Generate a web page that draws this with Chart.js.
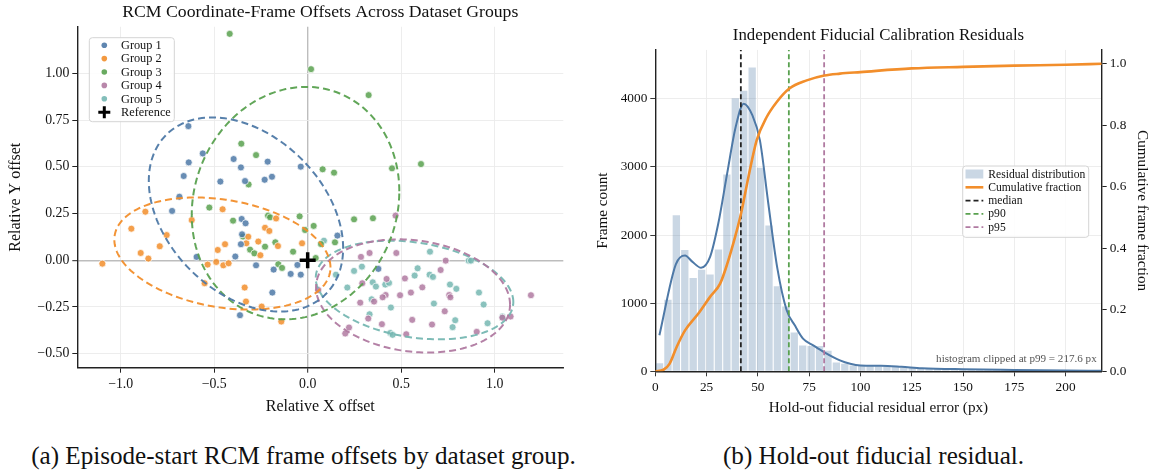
<!DOCTYPE html>
<html><head><meta charset="utf-8">
<script src="https://cdn.jsdelivr.net/npm/chart.js@4.4.1/dist/chart.umd.min.js"></script>
<style>
html,body{margin:0;padding:0;background:#fff;}
body{width:1154px;height:470px;position:relative;overflow:hidden;font-family:"Liberation Serif","DejaVu Serif",serif;color:#111;}
#c1{position:absolute;left:0;top:0;}
#c2{position:absolute;left:590px;top:0;}
.cap{position:absolute;top:441px;font-size:25.1px;line-height:30px;white-space:nowrap;transform:translateX(-50%);}
</style></head><body>
<canvas id="c1" width="590" height="425"></canvas>
<canvas id="c2" width="564" height="425"></canvas>
<div class="cap" style="left:303.5px">(a) Episode-start RCM frame offsets by dataset group.</div>
<div class="cap" style="left:873.5px">(b) Hold-out fiducial residual.</div>
<script>
// ---------------- DATA: left panel ----------------
const groupNames = ['Group 1','Group 2','Group 3','Group 4','Group 5'];
const group1X = [-0.638,-0.561,-0.636,-0.663,-0.396,-0.357,-0.214,-0.037,-0.467,-0.335,-0.230,-0.191,-0.686,-0.725,-0.353,-0.332,-0.351,-0.357,0.159,-0.594,-0.387,-0.276,-0.182,-0.091,-0.055,-0.037,-0.189,-0.362,0.378];
const group1Y = [0.718,0.572,0.524,0.451,0.542,0.497,0.528,0.501,0.421,0.424,0.431,0.447,0.340,0.264,0.221,0.198,0.139,0.086,0.132,0.018,0.020,-0.027,-0.050,-0.073,-0.025,-0.077,-0.173,-0.294,-0.046];
const group2X = [-1.098,-0.868,-0.943,-0.754,-0.893,-0.791,-0.852,-0.620,-0.455,-0.535,-0.489,-0.451,-0.423,-0.481,-0.442,-0.551,-0.337,-0.330,-0.246,-0.141,-0.328,-0.318,-0.264,-0.253,-0.228,-0.205,-0.169,-0.159,-0.030];
const group2Y = [-0.018,0.260,0.169,0.135,0.039,0.075,0.009,0.215,0.273,-0.023,-0.009,-0.027,-0.016,0.055,0.086,-0.123,-0.146,-0.221,-0.248,-0.328,0.091,0.126,0.100,0.027,0.174,0.157,0.224,0.076,0.091];
const group3X = [-0.417,0.018,0.326,-0.355,-0.276,-0.316,0.080,0.141,0.451,0.606,-0.526,-0.399,-0.212,-0.201,-0.043,0.032,-0.014,0.248,0.349,-0.346,-0.308,-0.285,-0.228,-0.173,-0.078,0.071,0.146,-0.157,-0.137,0.043];
const group3Y = [1.212,1.023,0.884,0.624,0.563,0.406,0.487,0.469,0.492,0.515,0.282,0.212,0.239,0.230,0.235,0.184,0.162,0.219,0.225,0.127,0.057,0.037,0.073,0.096,0.046,0.087,0.096,-0.021,-0.041,0.012];
const group4X = [0.470,0.285,0.331,0.474,0.738,0.711,0.520,0.422,0.613,0.552,0.494,0.417,0.401,0.292,0.281,0.355,0.757,0.763,0.733,0.559,0.665,0.324,0.397,0.221,0.201,0.527,0.904,1.085,1.041,1.194,0.057];
const group4Y = [0.239,0.018,0.039,0.039,-0.002,-0.052,-0.097,-0.100,-0.145,-0.173,-0.187,-0.186,-0.198,-0.123,-0.227,-0.221,-0.186,-0.198,-0.273,-0.319,-0.344,-0.312,-0.342,-0.360,-0.392,-0.396,-0.383,-0.301,-0.307,-0.187,-0.159];
const group5X = [0.087,0.151,0.212,0.248,0.290,0.348,0.365,0.415,0.435,0.342,0.445,0.331,0.442,0.454,0.572,0.588,0.654,0.652,0.670,0.675,0.761,0.795,0.861,0.873,0.916,0.941,0.789,0.775,0.962,1.041];
const group5Y = [0.105,-0.077,-0.146,-0.057,-0.034,-0.118,-0.141,-0.130,-0.121,-0.209,-0.253,-0.289,-0.389,-0.399,-0.082,-0.043,0.046,-0.077,-0.089,-0.232,-0.130,-0.153,-0.002,-0.002,-0.173,-0.237,-0.321,-0.358,-0.337,-0.301];
// spread ellipses per group: centre and (co)variance-like extents
const ellipseCx  = [-0.330,-0.456,-0.065, 0.5635, 0.5715];
const ellipseCy  = [ 0.245, 0.036, 0.306,-0.191,-0.159];
const ellipseSxx = [ 0.270, 0.334, 0.308, 0.269, 0.279];
const ellipseSyy = [ 0.270, 0.090, 0.387, 0.0918,0.0697];
const ellipseSxy = [-0.0936,-0.043,0.035,-0.024,-0.034];
const referencePoint = [0, 0];
const xTicksLeft = [-1.0,-0.5,0.0,0.5,1.0];
const yTicksLeft = [-0.50,-0.25,0.00,0.25,0.50,0.75,1.00];

// ---------------- DATA: right panel ----------------
const histMaxPx = 217.6;
const histCounts = [120,1050,2290,1780,1370,1490,1420,1790,2890,4010,4120,4460,2990,2140,1250,950,570,380,370,370,
  300,130,110,85,80,75,75,70,65,55,50,45,40,35,32,30,28,26,24,22,20,20,18,16,15,14,13,12,11,10,10,9,8];
const kdeX = [2,10,14.5,18,22.3,26.7,30.7,35,39.2,43.1,47.3,51,55.1,59.5,64,68,72,77,82,90,95,100,110,120,130,150,175,200,217.6];
const kdeY = [530,1570,1700,1610,1520,1680,2170,2900,3590,3930,3760,3390,2460,1510,900,675,480,380,285,160,110,85,80,65,45,30,20,12,8];
const cdfX = [0,4,7,10.4,14.5,21,26.7,31.6,35.1,38.9,41.8,45.4,49.4,54.3,59.2,65.2,73.8,82.4,90,100,125,150,175,200,217.6];
const cdfY = [0,0.005,0.025,0.079,0.133,0.188,0.242,0.285,0.35,0.437,0.513,0.632,0.751,0.827,0.876,0.919,0.946,0.962,0.968,0.973,0.985,0.99,0.994,0.997,1.0];
const percentileNames = ['median','p90','p95'];
const percentileValues = [41.7, 65.1, 82.3];
const xTicksRight = [0,25,50,75,100,125,150,175,200];
const countTicks = [0,1000,2000,3000,4000];
const fractionTicks = [0,0.2,0.4,0.6,0.8,1.0];
const clipNote = 'histogram clipped at p99 = 217.6 px';

// ---------------- styles ----------------
const SERIF = '"Liberation Serif","DejaVu Serif",serif';
Chart.defaults.font.family = SERIF;
Chart.defaults.color = '#000';
const groupColors = ['#4e79a7','#f28e2b','#59a14f','#b07aa1','#76b7b2'];
const pctColors = ['#222222','#59a14f','#b07aa1'];
const histColor = 'rgba(78,121,167,0.30)';
const kdeColor = '#4e79a7';
const cdfColor = '#f28e2b';
function rgba(hex, a){const n=parseInt(hex.slice(1),16);return `rgba(${n>>16&255},${n>>8&255},${n&255},${a})`;}
const fmt = (v,d)=> (v < -1e-9 ? '\u2212' : '') + Math.abs(v).toFixed(d);

function makeLegend(cfg){
  return {
    id: 'boxLegend',
    afterDatasetsDraw(chart){
      const ctx = chart.ctx;
      ctx.save();
      const r = 3;
      ctx.beginPath();
      ctx.moveTo(cfg.x+r, cfg.y);
      ctx.arcTo(cfg.x+cfg.w, cfg.y, cfg.x+cfg.w, cfg.y+cfg.h, r);
      ctx.arcTo(cfg.x+cfg.w, cfg.y+cfg.h, cfg.x, cfg.y+cfg.h, r);
      ctx.arcTo(cfg.x, cfg.y+cfg.h, cfg.x, cfg.y, r);
      ctx.arcTo(cfg.x, cfg.y, cfg.x+cfg.w, cfg.y, r);
      ctx.closePath();
      ctx.fillStyle = 'rgba(255,255,255,0.85)';
      ctx.fill();
      ctx.strokeStyle = '#d4d4d4'; ctx.lineWidth = 1; ctx.stroke();
      ctx.font = cfg.fontSize + 'px ' + SERIF;
      ctx.textBaseline = 'middle'; ctx.textAlign = 'left';
      cfg.items.forEach((it,i)=>{
        const y = cfg.firstY + i*cfg.rowH;
        const hx0 = cfg.handleX0, hx1 = cfg.handleX1, hc = (hx0+hx1)/2;
        ctx.setLineDash([]);
        if (it.type==='dot'){
          ctx.beginPath(); ctx.arc(hc, y, 2.8, 0, Math.PI*2);
          ctx.fillStyle = rgba(it.color,0.9); ctx.fill();
        } else if (it.type==='cross'){
          ctx.strokeStyle = it.color; ctx.lineWidth = 3;
          ctx.beginPath(); ctx.moveTo(hc-6,y); ctx.lineTo(hc+6,y); ctx.moveTo(hc,y-6); ctx.lineTo(hc,y+6); ctx.stroke();
        } else if (it.type==='box'){
          ctx.fillStyle = it.color; ctx.fillRect(hx0, y-4.5, hx1-hx0, 9);
        } else {
          ctx.strokeStyle = it.color; ctx.lineWidth = it.width || 1.8;
          if (it.type==='dash') ctx.setLineDash([5,3]);
          ctx.beginPath(); ctx.moveTo(hx0,y); ctx.lineTo(hx1,y); ctx.stroke();
        }
        ctx.setLineDash([]);
        ctx.fillStyle = '#111';
        ctx.fillText(it.label, cfg.textX, y+0.5);
      });
      if (cfg.note){
        ctx.font = cfg.note.size + 'px ' + SERIF;
        ctx.fillStyle = '#555'; ctx.textAlign = 'right';
        ctx.fillText(cfg.note.text, cfg.note.x, cfg.note.y);
      }
      ctx.restore();
    }
  };
}

// ---------------- left chart ----------------
const groupsX = [group1X,group2X,group3X,group4X,group5X];
const groupsY = [group1Y,group2Y,group3Y,group4Y,group5Y];
const leftDatasets = [];
groupNames.forEach((name,g)=>{
  leftDatasets.push({
    type:'scatter', label:name,
    data: groupsX[g].map((x,j)=>({x, y: groupsY[g][j]})),
    backgroundColor: rgba(groupColors[g],0.85),
    borderColor: 'rgba(255,255,255,0.9)', borderWidth: 0.8,
    pointRadius: 3.5, order: 3
  });
});
groupNames.forEach((name,g)=>{
  const l11 = Math.sqrt(ellipseSxx[g]);
  const l21 = ellipseSxy[g]/l11;
  const l22 = Math.sqrt(ellipseSyy[g]-l21*l21);
  const pts = [];
  for (let k=0;k<=200;k++){
    const t = k/200*Math.PI*2;
    pts.push({x: ellipseCx[g]+l11*Math.cos(t), y: ellipseCy[g]+l21*Math.cos(t)+l22*Math.sin(t)});
  }
  leftDatasets.push({
    type:'line', label:name+' spread', data:pts,
    borderColor: rgba(groupColors[g],0.95), borderWidth: 2, borderDash:[7,4],
    pointRadius:0, fill:false, tension:0, order:2
  });
});
leftDatasets.push({
  type:'scatter', label:'Reference',
  data:[{x:referencePoint[0], y:referencePoint[1]}],
  pointStyle:'cross', pointRadius:8, borderWidth:3.5, borderColor:'#000', backgroundColor:'#000', order:0
});

function gridColorZero(ctx){ return Math.abs(ctx.tick.value) < 1e-9 ? '#bdbdbd' : '#ebebeb'; }
function gridWidthZero(ctx){ return Math.abs(ctx.tick.value) < 1e-9 ? 1.4 : 0.9; }

new Chart(document.getElementById('c1'), {
  type:'scatter',
  data:{datasets:leftDatasets},
  options:{
    responsive:false, animation:false, devicePixelRatio:1,
    layout:{padding:{left:0,right:26.7,top:0,bottom:0}},
    plugins:{
      legend:{display:false}, tooltip:{enabled:false},
      title:{display:true, fullSize:false, text:'RCM Coordinate-Frame Offsets Across Dataset Groups',
        font:{size:17.7, weight:'normal', lineHeight:1.2}, color:'#111', padding:{top:1.4,bottom:4.1}}
    },
    scales:{
      x:{type:'linear', min:-1.232, max:1.367,
        afterBuildTicks(s){ s.ticks = xTicksLeft.map(v=>({value:v})); },
        afterFit(s){ s.height = 425-367.7; },
        ticks:{callback:v=>fmt(v,1), font:{size:13.8}, color:'#111', padding:3, maxRotation:0},
        grid:{color:gridColorZero, lineWidth:gridWidthZero, tickColor:'#222', tickLength:5, tickWidth:1},
        border:{display:true, color:'#222', width:1.4},
        title:{display:true, text:'Relative X offset', font:{size:16, lineHeight:1.2}, color:'#111', padding:{top:0,bottom:8.7}}
      },
      y:{type:'linear', min:-0.575, max:1.25,
        afterBuildTicks(s){ s.ticks = yTicksLeft.map(v=>({value:v})); },
        afterFit(s){ s.width = 77.3; },
        ticks:{callback:v=>fmt(v,2), font:{size:13.8}, color:'#111', padding:3},
        grid:{color:gridColorZero, lineWidth:gridWidthZero, tickColor:'#222', tickLength:5, tickWidth:1},
        border:{display:true, color:'#222', width:1.4},
        title:{display:true, text:'Relative Y offset', font:{size:16, lineHeight:1.2}, color:'#111', padding:{top:6.4,bottom:0}}
      }
    }
  },
  plugins:[makeLegend({
    x:89.3, y:37.7, w:85, h:84, firstY:45.2, rowH:13.4, handleX0:98, handleX1:110.6, textX:121, fontSize:12.3,
    items: groupNames.map((n,i)=>({type:'dot', color:groupColors[i], label:n})).concat([{type:'cross', color:'#000', label:'Reference'}])
  })]
});

// ---------------- right chart ----------------
const binW = histMaxPx / histCounts.length;
const countMax = 4718, fracMax = 1.045;
const rightDatasets = [
  {type:'bar', label:'Residual distribution', data: histCounts.map((c,i)=>({x:(i+0.5)*binW, y:c})),
   backgroundColor: histColor, borderWidth:0, barPercentage:0.87, categoryPercentage:1.0, yAxisID:'y', xAxisID:'x', order:5},
  {type:'line', label:'density', data: kdeX.map((x,i)=>({x, y:kdeY[i]})), borderColor:kdeColor, borderWidth:2,
   pointRadius:0, fill:false, cubicInterpolationMode:'monotone', yAxisID:'y', order:3},
];
percentileNames.forEach((n,i)=>{
  rightDatasets.push({type:'line', label:n, data:[{x:percentileValues[i], y:0},{x:percentileValues[i], y:countMax}],
    borderColor:pctColors[i], borderWidth:1.8, borderDash:[5,3], pointRadius:0, fill:false, yAxisID:'y', order:2});
});
rightDatasets.push({type:'line', label:'Cumulative fraction', data: cdfX.map((x,i)=>({x, y:cdfY[i]})),
  borderColor:cdfColor, borderWidth:2.6, pointRadius:0, fill:false, cubicInterpolationMode:'monotone', yAxisID:'y2', order:1});

new Chart(document.getElementById('c2'), {
  type:'scatter',
  data:{datasets:rightDatasets},
  options:{
    responsive:false, animation:false, devicePixelRatio:1,
    layout:{padding:{left:0,right:0,top:0,bottom:0}},
    plugins:{
      legend:{display:false}, tooltip:{enabled:false},
      title:{display:true, fullSize:false, text:'Independent Fiducial Calibration Residuals',
        font:{size:16.8, weight:'normal', lineHeight:1.2}, color:'#111', padding:{top:25.9,bottom:3.9}}
    },
    scales:{
      x:{type:'linear', min:0, max:histMaxPx, offset:false,
        afterBuildTicks(s){ s.ticks = xTicksRight.map(v=>({value:v})); },
        ticks:{callback:v=>String(Math.round(v)), font:{size:13.3}, color:'#111', padding:3, maxRotation:0},
        afterFit(s){ s.height = 425-371.3; },
        grid:{color:'#ebebeb', lineWidth:0.9, tickColor:'#222', tickLength:5, offset:false},
        border:{display:true, color:'#222', width:1.4},
        title:{display:true, text:'Hold-out fiducial residual error (px)', font:{size:15.2, lineHeight:1.2}, color:'#111', padding:{top:0,bottom:7.6}}
      },
      y:{type:'linear', position:'left', min:0, max:countMax,
        afterBuildTicks(s){ s.ticks = countTicks.map(v=>({value:v})); },
        ticks:{callback:v=>String(Math.round(v)), font:{size:13.3}, color:'#111', padding:3},
        afterFit(s){ s.width = 65.3; },
        grid:{color:'#ebebeb', lineWidth:0.9, tickColor:'#222', tickLength:5},
        border:{display:true, color:'#222', width:1.4},
        title:{display:true, text:'Frame count', font:{size:15.2, lineHeight:1.2}, color:'#111', padding:{top:3.6,bottom:0}}
      },
      y2:{type:'linear', position:'right', min:0, max:fracMax,
        afterBuildTicks(s){ s.ticks = fractionTicks.map(v=>({value:v})); },
        ticks:{callback:v=>fmt(v,1), font:{size:13.3}, color:'#111', padding:3},
        afterFit(s){ s.width = 564-511.7; },
        grid:{drawOnChartArea:false, color:'#ebebeb', tickColor:'#222', tickLength:5},
        border:{display:true, color:'#222', width:1.4},
        title:{display:true, text:'Cumulative frame fraction', font:{size:15.2, lineHeight:1.2}, color:'#111', padding:{top:3.2,bottom:0}}
      }
    }
  },
  plugins:[makeLegend({
    x:372.7, y:166, w:126, h:71.3, firstY:174, rowH:13.3, handleX0:375.5, handleX1:393.3, textX:398.3, fontSize:11.6,
    items:[{type:'box', color:histColor, label:'Residual distribution'},
           {type:'line', color:cdfColor, width:2.6, label:'Cumulative fraction'}]
      .concat(percentileNames.map((n,i)=>({type:'dash', color:pctColors[i], width:1.8, label:n}))),
    note:{text:clipNote, x:506.7, y:359.5, size:11.1}
  })]
});
</script>
</body></html>
